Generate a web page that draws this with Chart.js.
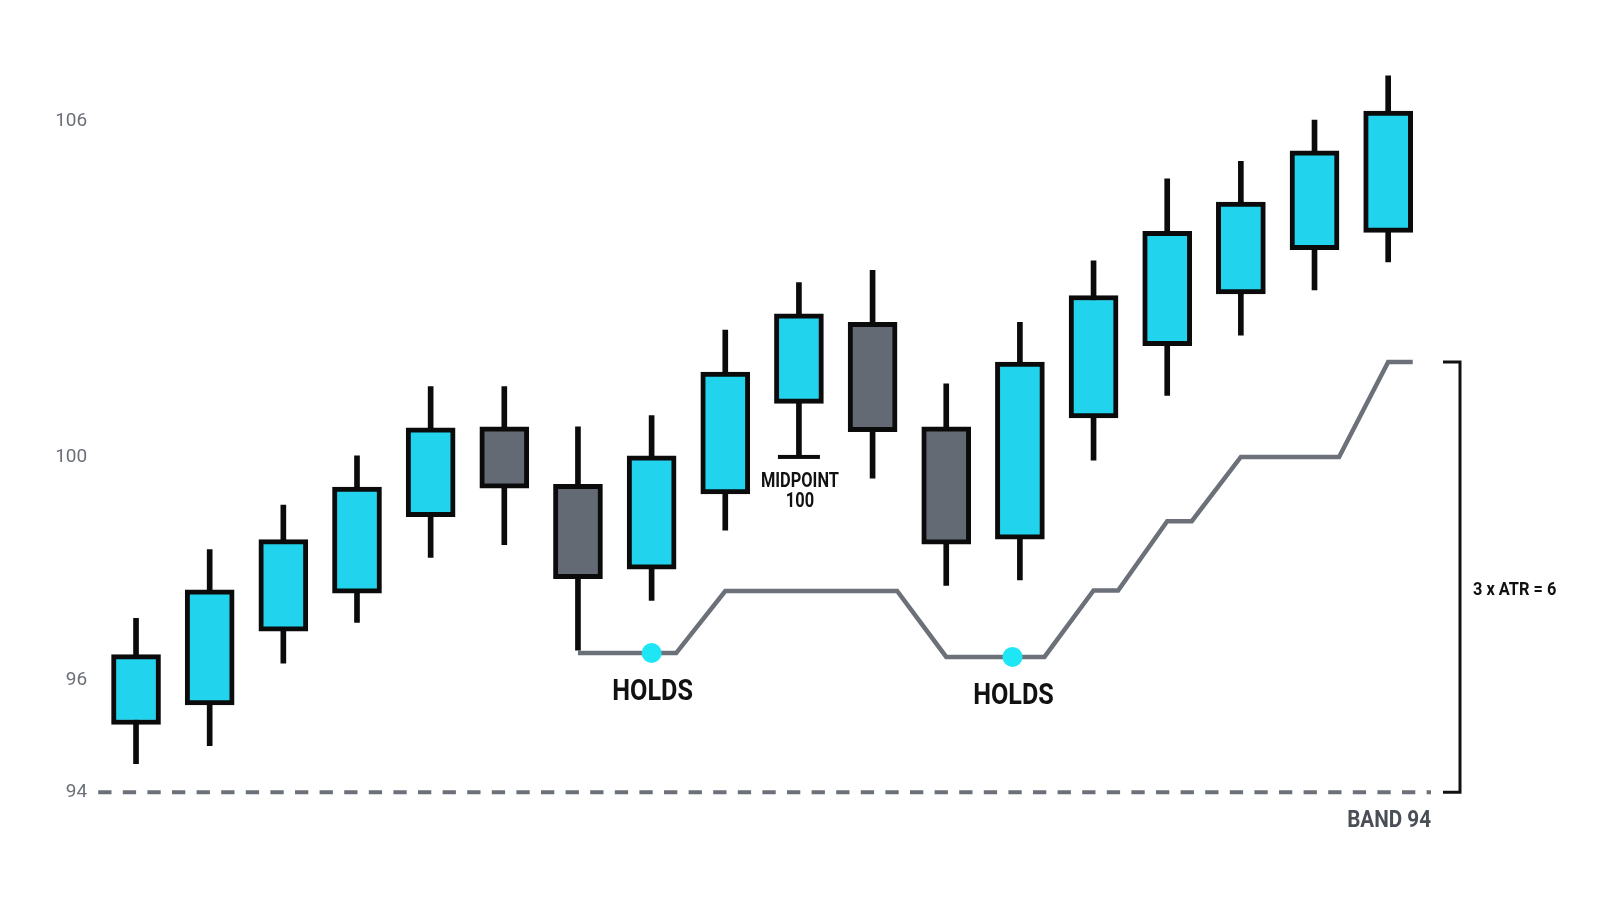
<!DOCTYPE html>
<html>
<head>
<meta charset="utf-8">
<script src="https://cdn.jsdelivr.net/npm/chart.js@4.4.1/dist/chart.umd.min.js"></script>
<style>
  html, body { margin: 0; padding: 0; background: #ffffff; }
  #wrap { width: 1600px; height: 914px; }
</style>
</head>
<body>
<div id="wrap"><canvas id="c" width="1600" height="914"></canvas></div>
<script>
// ---------------- data ----------------
const sessions   = [1, 2, 3, 4, 5, 6, 7, 8, 9, 10, 11, 12, 13, 14, 15, 16, 17, 18];
const opens      = [95.21, 95.56, 96.88, 97.56, 98.93, 100.54, 99.51, 97.99, 99.34, 100.96, 102.41, 100.54, 98.53, 100.70, 101.99, 102.92, 103.71, 104.02];
const highs      = [97.11, 98.34, 99.14, 100.02, 101.26, 101.26, 100.54, 100.74, 102.27, 103.12, 103.34, 101.31, 102.41, 103.51, 104.98, 105.29, 106.03, 106.82];
const lows       = [94.51, 94.83, 96.31, 97.04, 98.20, 98.43, 96.54, 97.43, 98.69, 100.00, 99.62, 97.70, 97.80, 99.94, 101.10, 102.18, 102.99, 103.49];
const closes     = [96.46, 97.62, 98.52, 99.46, 100.52, 99.44, 97.82, 100.02, 101.52, 102.56, 100.45, 98.44, 101.70, 102.89, 104.04, 104.56, 105.48, 106.19];
const stopLevels = [null, null, null, null, null, null, 96.49, 96.49, 97.60, 97.60, 97.60, 96.42, 96.42, 97.61, 98.85, 100.00, 100.00, 101.70];
const holdPoints = [7, 11.9];            // positions (session index) of the "HOLDS" dots
const holdLabels = ['HOLDS', 'HOLDS'];
const yTickValues = [94, 96, 100, 106];
const bandLevel = 94;
const bandLabel = 'BAND 94';
const midpointIndex = 9;
const midpointLevel = 100;
const midpointLabel = ['MIDPOINT', '100'];
const atrLabel = '3 x ATR = 6';

// ---------------- styling ----------------
const CYAN = '#22d3ee';
const GRAY = '#646a73';
const INK = '#0b0b0b';
const LINE_GRAY = '#6b7079';
const DOT = '#1ee6f4';
const HOLD_FRACTION = 1 / 3;   // the stop holds its level for a third of a bar before moving

// derived structures for the library
const bodyData = opens.map((o, i) => ({ x: i, y: [Math.min(o, closes[i]), Math.max(o, closes[i])] }));
const wickData = lows.map((l, i) => ({ x: i, y: [l, highs[i]] }));
const stopData = [];
stopLevels.forEach((v, i) => {
  if (v !== null) {
    stopData.push({ x: i, y: v });
    stopData.push({ x: i + HOLD_FRACTION, y: v });
  }
});
function stopAt(xv) {
  for (let k = 0; k < stopData.length - 1; k++) {
    const a = stopData[k], b = stopData[k + 1];
    if (xv >= a.x && xv <= b.x) {
      const t = b.x === a.x ? 0 : (xv - a.x) / (b.x - a.x);
      return a.y + t * (b.y - a.y);
    }
  }
  return stopData[stopData.length - 1].y;
}
const holdData = holdPoints.map(p => ({ x: p, y: stopAt(p) }));
const isUp = i => closes[i] >= opens[i];

function drawText(ctx, str, x, y, size, sx, color, align) {
  ctx.save();
  ctx.font = 'bold ' + size + 'px Roboto, "Liberation Sans", "DejaVu Sans", sans-serif';
  ctx.fillStyle = color;
  ctx.textAlign = align;
  ctx.textBaseline = 'alphabetic';
  ctx.translate(x, y);
  ctx.scale(sx, 1);
  ctx.fillText(str, 0, 0);
  ctx.restore();
}

const annotations = {
  id: 'annotations',
  afterDatasetsDraw(chart) {
    const { ctx, chartArea: a, scales: { x, y } } = chart;
    ctx.save();
    const yb = y.getPixelForValue(bandLevel);
    ctx.strokeStyle = LINE_GRAY;
    ctx.lineWidth = 4;
    ctx.setLineDash([13.3, 11.3]);
    ctx.beginPath();
    ctx.moveTo(a.left - 1, yb);
    ctx.lineTo(a.right + 6, yb);
    ctx.stroke();
    ctx.setLineDash([]);

    const yt = y.getPixelForValue(stopLevels[stopLevels.length - 1]);
    const bx = a.right + 35;
    ctx.strokeStyle = '#111111';
    ctx.lineWidth = 3;
    ctx.beginPath();
    ctx.moveTo(bx - 17, yt);
    ctx.lineTo(bx, yt);
    ctx.lineTo(bx, yb);
    ctx.lineTo(bx - 17, yb);
    ctx.stroke();
    drawText(ctx, atrLabel, bx + 13, (yt + yb) / 2 + 17.5, 19, 0.86, '#111111', 'left');
    drawText(ctx, bandLabel, a.right + 6, yb + 35, 24, 0.86, '#4a4f57', 'right');

    const mx = x.getPixelForValue(midpointIndex);
    const my = y.getPixelForValue(midpointLevel);
    ctx.fillStyle = INK;
    ctx.fillRect(mx - 21, my - 2, 42, 4);
    drawText(ctx, midpointLabel[0], mx + 1, my + 30, 20, 0.82, '#111111', 'center');
    drawText(ctx, midpointLabel[1], mx + 1, my + 50, 20, 0.82, '#111111', 'center');

    holdData.forEach((p, k) => {
      const px = x.getPixelForValue(p.x);
      const py = y.getPixelForValue(p.y);
      drawText(ctx, holdLabels[k], px + 1, py + 47, 30, 0.84, '#111111', 'center');
    });
    ctx.restore();
  }
};

new Chart(document.getElementById('c'), {
  type: 'bar',
  data: {
    labels: sessions,
    datasets: [
      {
        label: 'Hold',
        type: 'line',
        data: holdData,
        showLine: false,
        pointRadius: 10,
        pointHoverRadius: 10,
        pointBackgroundColor: DOT,
        pointBorderWidth: 0,
        order: 0
      },
      {
        label: 'Body',
        data: bodyData,
        backgroundColor: c => (isUp(c.dataIndex) ? CYAN : GRAY),
        borderColor: INK,
        borderWidth: 5,
        borderSkipped: false,
        barThickness: 49,
        grouped: false,
        order: 1
      },
      {
        label: 'Wick',
        data: wickData,
        backgroundColor: INK,
        borderWidth: 0,
        barThickness: 5,
        grouped: false,
        order: 2
      },
      {
        label: 'Trailing stop',
        type: 'line',
        data: stopData,
        borderColor: LINE_GRAY,
        borderWidth: 4.5,
        pointRadius: 0,
        tension: 0,
        borderCapStyle: 'butt',
        borderJoinStyle: 'miter',
        fill: false,
        order: 3
      }
    ]
  },
  options: {
    responsive: false,
    animation: false,
    events: [],
    layout: { padding: { left: 0, right: 175, top: 8, bottom: 66 } },
    plugins: { legend: { display: false }, tooltip: { enabled: false } },
    scales: {
      x: {
        type: 'linear',
        min: -0.5,
        max: 17.5,
        offset: false,
        display: false
      },
      y: {
        type: 'linear',
        min: 93,
        max: 108,
        beginAtZero: false,
        grid: { display: false, drawTicks: false },
        border: { display: false },
        afterFit: s => { s.width = 99.2; s.paddingTop = 0; s.paddingBottom = 0; },
        afterBuildTicks: s => { s.ticks = yTickValues.map(v => ({ value: v })); },
        ticks: {
          padding: 12,
          color: '#6b7078',
          font: { family: '"Liberation Sans Narrow", Roboto, sans-serif', size: 19 },
          callback: v => String(v)
        }
      }
    }
  },
  plugins: [annotations]
});
</script>
</body>
</html>
